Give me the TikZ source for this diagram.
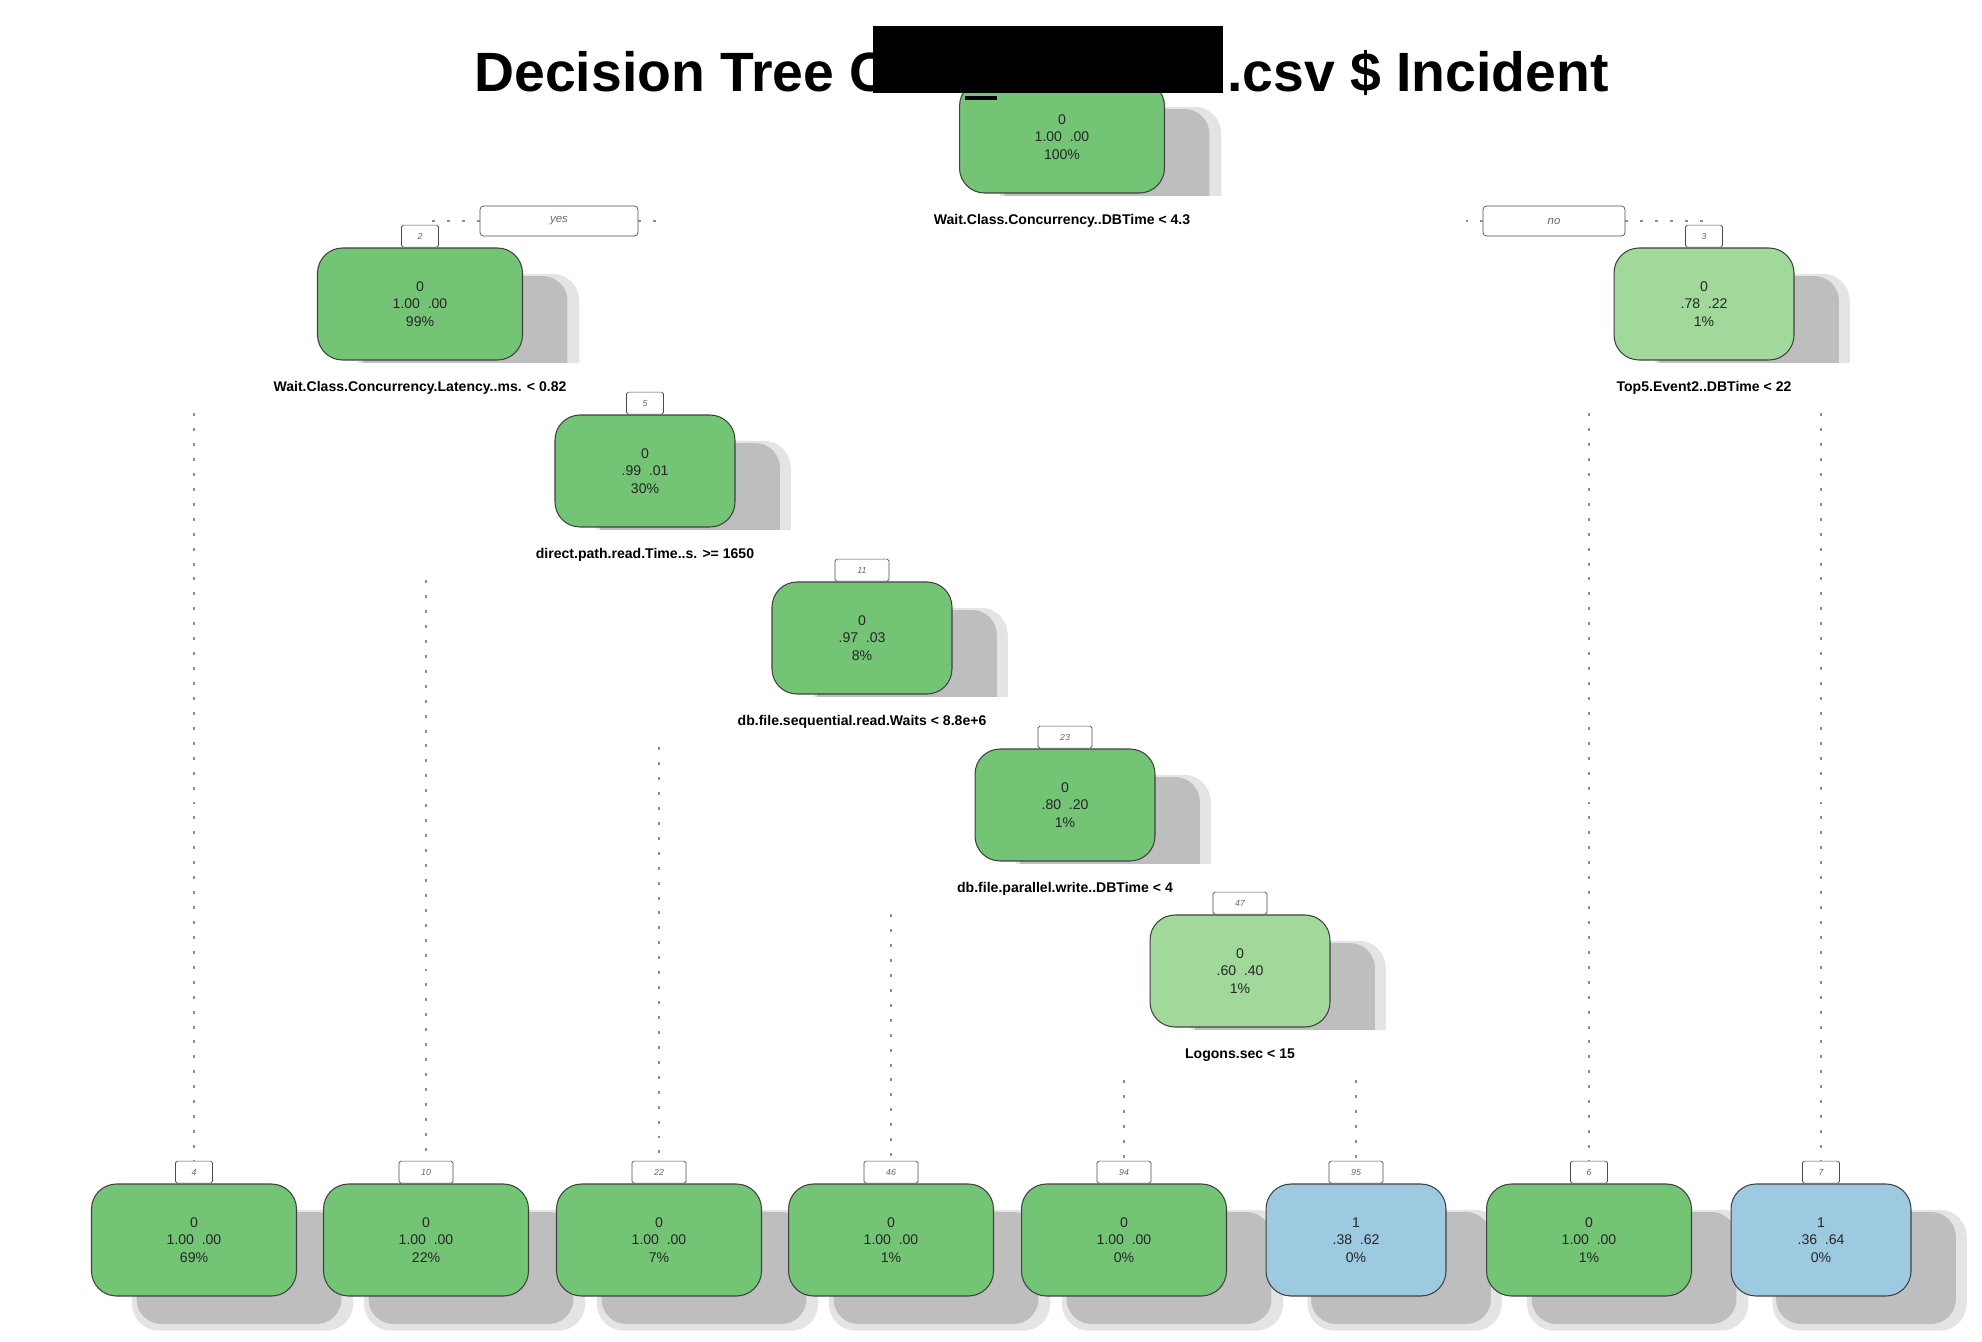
\documentclass[tikz,border=0pt]{standalone}
\usepackage{fontspec}
\setmainfont{Liberation Sans}
\usetikzlibrary{positioning,shadows}
\definecolor{dkgreen}{RGB}{116,196,118}
\definecolor{ltgreen}{RGB}{161,217,155}
\definecolor{ltblue}{RGB}{158,202,225}
\definecolor{shade}{RGB}{190,190,190}
\definecolor{halo}{RGB}{228,228,228}
\newcommand{\probs}[2]{#1\hspace{4.4pt}#2}
\tikzset{
  box/.style   = {draw=black!75, line width=0.6pt, rounded corners=0.5cm, minimum height=2.24cm,
                  minimum width=3.6cm, align=center, text=black!85, font=\fontsize{8}{10}\selectfont,
                  drop shadow={shadow xshift=0.9cm, shadow yshift=-0.56cm, shadow scale=1.08, fill=halo, opacity=1},
                  drop shadow={shadow xshift=0.9cm, shadow yshift=-0.56cm, fill=shade, opacity=1}},
  wide/.style  = {minimum width=4.1cm},
  pure/.style  = {box, fill=dkgreen},
  mixed/.style = {box, fill=ltgreen},
  ones/.style  = {box, fill=ltblue},
  tab/.style   = {draw=black!70, fill=white, line width=0.4pt, rounded corners=1pt, minimum width=0.74cm,
                  minimum height=0.44cm, inner sep=0pt, text=black!60, font=\fontsize{5}{6}\selectfont\itshape},
  tabw/.style  = {tab, minimum width=1.08cm},
  split/.style = {fill=white, minimum width=6.4cm, minimum height=1cm, inner xsep=0.4cm,
                  font=\fontsize{8}{10}\selectfont\bfseries},
  answer/.style= {draw=black!70, fill=white, line width=0.4pt, rounded corners=2pt, minimum height=0.6cm,
                  text=black!60, font=\fontsize{6.5}{8}\selectfont\itshape},
  branch/.style= {draw=black!45, line width=0.6pt, dash pattern=on 1.7pt off 6.8pt},
  title/.style = {inner sep=0pt, font=\fontsize{31.5}{36}\selectfont\bfseries},
}

\begin{document}
\begin{tikzpicture}[x=0.02cm, y=-0.02cm]
    \useasboundingbox (0,0) rectangle (1982,1342);

    \node [title, anchor=base west] (titleL) at (474,91) {Decision Tree C};
    \node [title, anchor=base west] (titleR) at (1227,91) {.csv \$ Incident};

    \node [pure, wide] (n1) at (1062,137) {0\\\probs{1.00}{.00}\\100\%};
    \node [split, below=0.04cm of n1] (s1) {Wait.Class.Concurrency..DBTime < 4.3};
    \fill (873,26) rectangle (1223,93);
    \fill (965,96) rectangle (997,100);

    \node [answer, minimum width=3.16cm] (yes) at (559,221) {yes};
    \node [answer, minimum width=2.84cm] (no) at (1554,221) {no};

    \node [pure, wide] (n2) at (420,304) {0\\\probs{1.00}{.00}\\99\%};
    \node [tab, above=0pt of n2] (t2) {2};
    \node [split, below=0.04cm of n2] (s2) {Wait.Class.Concurrency.Latency..ms. < 0.82};

    \node [mixed] (n3) at (1704,304) {0\\\probs{.78}{.22}\\1\%};
    \node [tab, above=0pt of n3] (t3) {3};
    \node [split, below=0.04cm of n3] (s3) {Top5.Event2..DBTime < 22};

    \node [pure] (n5) at (645,471) {0\\\probs{.99}{.01}\\30\%};
    \node [tab, above=0pt of n5] (t5) {5};
    \node [split, below=0.04cm of n5] (s5) {direct.path.read.Time..s. >= 1650};

    \node [pure] (n11) at (862,638) {0\\\probs{.97}{.03}\\8\%};
    \node [tabw, above=0pt of n11] (t11) {11};
    \node [split, below=0.04cm of n11] (s11) {db.file.sequential.read.Waits < 8.8e+6};

    \node [pure] (n23) at (1065,805) {0\\\probs{.80}{.20}\\1\%};
    \node [tabw, above=0pt of n23] (t23) {23};
    \node [split, below=0.04cm of n23] (s23) {db.file.parallel.write..DBTime < 4};

    \node [mixed] (n47) at (1240,971) {0\\\probs{.60}{.40}\\1\%};
    \node [tabw, above=0pt of n47] (t47) {47};
    \node [split, below=0.04cm of n47] (s47) {Logons.sec < 15};

    \node [pure, wide] (l4) at (194,1240) {0\\\probs{1.00}{.00}\\69\%};
    \node [tab, above=0pt of l4] (t4) {4};
    \node [pure, wide] (l10) at (426,1240) {0\\\probs{1.00}{.00}\\22\%};
    \node [tabw, above=0pt of l10] (t10) {10};
    \node [pure, wide] (l22) at (659,1240) {0\\\probs{1.00}{.00}\\7\%};
    \node [tabw, above=0pt of l22] (t22) {22};
    \node [pure, wide] (l46) at (891,1240) {0\\\probs{1.00}{.00}\\1\%};
    \node [tabw, above=0pt of l46] (t46) {46};
    \node [pure, wide] (l94) at (1124,1240) {0\\\probs{1.00}{.00}\\0\%};
    \node [tabw, above=0pt of l94] (t94) {94};
    \node [ones] (l95) at (1356,1240) {1\\\probs{.38}{.62}\\0\%};
    \node [tabw, above=0pt of l95] (t95) {95};
    \node [pure, wide] (l6) at (1589,1240) {0\\\probs{1.00}{.00}\\1\%};
    \node [tab, above=0pt of l6] (t6) {6};
    \node [ones] (l7) at (1821,1240) {1\\\probs{.36}{.64}\\0\%};
    \node [tab, above=0pt of l7] (t7) {7};

    \draw [branch] (yes.west) -- (yes.west -| t2.center);
    \draw [branch] (yes.east) -- ++(20,0);
    \draw [branch] (no.west) -- ++(-17,0);
    \draw [branch] (no.east) -- (no.east -| t3.center);
    \draw [branch] (t4.north |- s2.south) -- (t4.north);
    \draw [branch] (t10.north |- s5.south) -- (t10.north);
    \draw [branch] (t22.north |- s11.south) -- (t22.north);
    \draw [branch] (t46.north |- s23.south) -- (t46.north);
    \draw [branch] (t94.north |- s47.south) -- (t94.north);
    \draw [branch] (t95.north |- s47.south) -- (t95.north);
    \draw [branch] (t6.north |- s3.south) -- (t6.north);
    \draw [branch] (t7.north |- s3.south) -- (t7.north);
\end{tikzpicture}
\end{document}
